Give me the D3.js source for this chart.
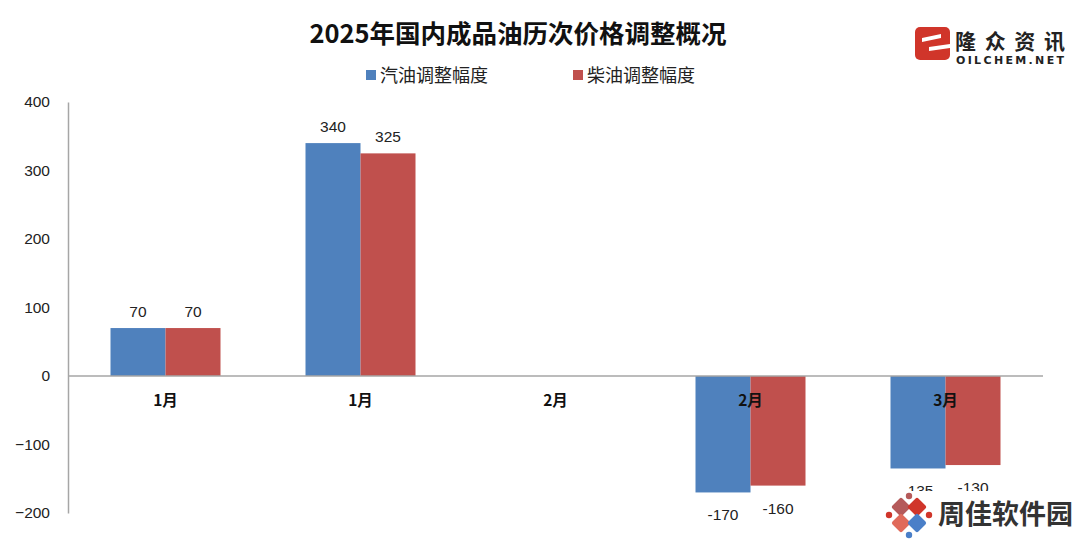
<!DOCTYPE html>
<html>
<head>
<meta charset="utf-8">
<script src="https://cdn.jsdelivr.net/npm/d3@7/dist/d3.min.js"></script>
<style>
  html, body { margin: 0; padding: 0; background: #fff; }
  svg { display: block; font-family: "Noto Sans CJK SC", "Noto Sans", sans-serif; }
</style>
</head>
<body>
<svg id="chart" width="1080" height="540"></svg>
<script>
// 2025年国内成品油历次价格调整（元/吨）
const categories = ["1月", "1月", "2月", "2月", "3月"];
const gasoline = [70, 340, null, -170, -135];   // 汽油调整幅度
const diesel = [70, 325, null, -160, -130];     // 柴油调整幅度
const seriesNames = ["汽油调整幅度", "柴油调整幅度"];
const seriesColors = ["#4F81BD", "#C0504D"];
const yTicks = [-200, -100, 0, 100, 200, 300, 400];

const svg = d3.select("#chart");
const plot = { left: 68, right: 1043, top: 102, bottom: 513 };
const numFont = "'Liberation Sans', 'DejaVu Sans', sans-serif";

const x0 = d3.scaleBand()
  .domain(d3.range(categories.length))
  .range([plot.left, plot.right])
  .padding(0);

const x1 = d3.scaleBand()
  .domain([0, 1])
  .range([0, x0.bandwidth()])
  .paddingInner(0)
  .paddingOuter(0.7727);

const y = d3.scaleLinear()
  .domain([-200, 400])
  .range([plot.bottom, plot.top]);

// title
svg.append("text")
  .attr("x", 518).attr("y", 43)
  .attr("text-anchor", "middle")
  .attr("font-size", 25.5).attr("font-weight", 700)
  .attr("fill", "#111")
  .text("2025年国内成品油历次价格调整概况");

// legend
const legend = svg.append("g");
const legendX = [366, 573];
seriesNames.forEach((name, i) => {
  legend.append("rect")
    .attr("x", legendX[i]).attr("y", 70)
    .attr("width", 10).attr("height", 10)
    .attr("fill", seriesColors[i]);
  legend.append("text")
    .attr("x", legendX[i] + 14).attr("y", 82)
    .attr("font-size", 18).attr("fill", "#222")
    .text(name);
});

// y axis
const yAxis = d3.axisLeft(y).tickValues(yTicks).tickSize(0).tickPadding(18);
const gy = svg.append("g")
  .attr("transform", `translate(${plot.left},0)`)
  .call(yAxis);
gy.select(".domain").attr("stroke", "#A6A6A6").attr("stroke-width", 1.5);
gy.selectAll("text")
  .attr("font-size", 15.5).attr("fill", "#222")
  .attr("font-family", numFont);

// bars
const seriesData = [gasoline, diesel];
const groups = svg.append("g");
categories.forEach((c, i) => {
  seriesData.forEach((vals, s) => {
    const v = vals[i];
    if (v === null) return;
    groups.append("rect")
      .attr("x", x0(i) + x1(s))
      .attr("y", y(Math.max(0, v)))
      .attr("width", x1.bandwidth())
      .attr("height", Math.abs(y(v) - y(0)))
      .attr("fill", seriesColors[s]);
  });
});

// zero line
svg.append("line")
  .attr("x1", plot.left).attr("x2", plot.right)
  .attr("y1", y(0)).attr("y2", y(0))
  .attr("stroke", "#A6A6A6").attr("stroke-width", 1.5);

// value labels
categories.forEach((c, i) => {
  seriesData.forEach((vals, s) => {
    const v = vals[i];
    if (v === null) return;
    svg.append("text")
      .attr("x", x0(i) + x1(s) + x1.bandwidth() / 2)
      .attr("y", v >= 0 ? y(v) - 11 : y(v) + 28)
      .attr("text-anchor", "middle")
      .attr("font-size", 15.5).attr("fill", "#222")
      .attr("font-family", numFont)
      .text(v);
  });
});

// category labels
categories.forEach((c, i) => {
  svg.append("text")
    .attr("x", x0(i) + x0.bandwidth() / 2)
    .attr("y", 406)
    .attr("text-anchor", "middle")
    .attr("font-size", 15.5).attr("font-weight", 700)
    .attr("fill", "#111")
    .text(c);
});

// OILCHEM logo
const logo = svg.append("g");
logo.append("rect")
  .attr("x", 915).attr("y", 27).attr("width", 35).attr("height", 33)
  .attr("rx", 5).attr("fill", "#D0352A");
logo.append("path")
  .attr("d", "M922,38 L941,34 L941,38 L922,42 Z")
  .attr("fill", "#fff");
logo.append("path")
  .attr("d", "M929,47 L950,44 L950,48 L929,51 Z")
  .attr("fill", "#fff");
logo.append("text")
  .attr("x", 955).attr("y", 49)
  .attr("font-size", 21).attr("font-weight", 700)
  .attr("textLength", 110)
  .attr("fill", "#222")
  .text("隆众资讯");
logo.append("text")
  .attr("x", 956).attr("y", 64)
  .attr("font-size", 11).attr("font-weight", 700)
  .attr("textLength", 108)
  .attr("font-family", "'DejaVu Sans', sans-serif")
  .attr("fill", "#222")
  .text("OILCHEM.NET");

// site badge, bottom right
const badge = svg.append("g");
badge.append("rect")
  .attr("x", 884).attr("y", 491).attr("width", 196).attr("height", 49)
  .attr("fill", "#fff");
const cx0 = 909, cy0 = 515;
const petals = [
  { dx: -8, dy: -8, c: "#B55A5A" },
  { dx: 8, dy: -8, c: "#D0352A" },
  { dx: -8, dy: 8, c: "#E06A5A" },
  { dx: 8, dy: 8, c: "#4A7FC8" }
];
petals.forEach(p => {
  const px = cx0 + p.dx, py = cy0 + p.dy;
  badge.append("rect")
    .attr("x", px - 7).attr("y", py - 7)
    .attr("width", 14).attr("height", 14)
    .attr("rx", 2)
    .attr("transform", `rotate(45 ${px} ${py})`)
    .attr("fill", p.c);
});
[[0, -19, "#B55A5A"], [20, 0, "#D0352A"], [-20, 0, "#D0352A"], [0, 20, "#4A7FC8"]].forEach(d => {
  badge.append("circle")
    .attr("cx", cx0 + d[0]).attr("cy", cy0 + d[1]).attr("r", 3.2)
    .attr("fill", d[2]);
});
badge.append("text")
  .attr("x", 938).attr("y", 524)
  .attr("font-size", 27).attr("font-weight", 700)
  .attr("fill", "#333")
  .text("周佳软件园");
</script>
</body>
</html>
